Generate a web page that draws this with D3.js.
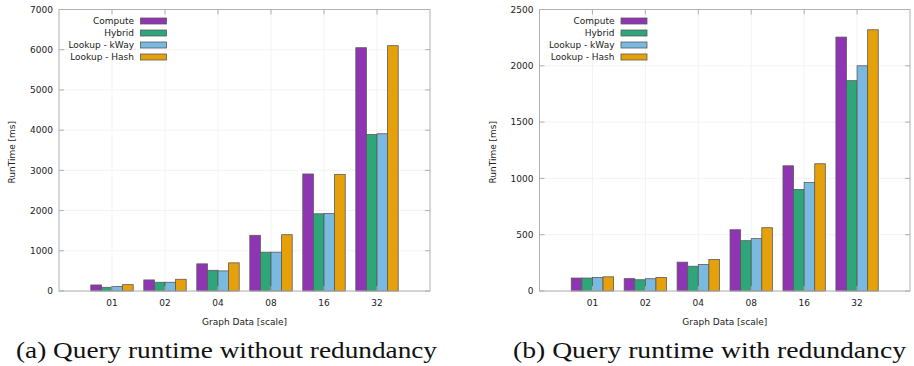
<!DOCTYPE html>
<html>
<head>
  <meta charset="utf-8">
  <title>Query runtime</title>
  <style>
    body { margin: 0; background: #fff; }
    text { font-family: "DejaVu Sans", sans-serif; fill: #222; }
    .caption { font-family: "Liberation Serif", serif; fill: #111; }
  </style>
</head>
<body>
  <div id="chart"></div>
  <script src="https://cdn.jsdelivr.net/npm/d3@7"></script>
  <script>
    // data
    const categories = ["01", "02", "04", "08", "16", "32"];
    const seriesNames = ["Compute", "Hybrid", "Lookup - kWay", "Lookup - Hash"];
    const colors = ["#8f35b3", "#2fa67a", "#7bbae0", "#e6a00a"];

    // (a) without redundancy
    const noRedCompute = [150, 275, 675, 1385, 2910, 6050];
    const noRedHybrid = [92, 217, 515, 965, 1920, 3890];
    const noRedKWay = [115, 217, 500, 965, 1925, 3910];
    const noRedHash = [158, 292, 700, 1400, 2900, 6100];
    const noRedTicks = [0, 1000, 2000, 3000, 4000, 5000, 6000, 7000];

    // (b) with redundancy
    const redCompute = [115, 110, 256, 544, 1112, 2255];
    const redHybrid = [115, 100, 220, 447, 902, 1868];
    const redKWay = [120, 109, 235, 465, 964, 2000];
    const redHash = [126, 120, 279, 562, 1130, 2320];
    const redTicks = [0, 500, 1000, 1500, 2000, 2500];

    const captionA = "(a) Query runtime without redundancy";
    const captionB = "(b) Query runtime with redundancy";

    const svg = d3.select("#chart").append("svg")
      .attr("width", 914)
      .attr("height", 366);

    svg.append("rect").attr("width", 914).attr("height", 366).attr("fill", "#fff");

    function drawPanel(opt) {
      const x = d3.scalePoint()
        .domain(categories)
        .range([opt.left, opt.right])
        .padding(1);
      const step = x.step();

      const sub = d3.scaleBand()
        .domain(seriesNames)
        .range([-step * 0.4, step * 0.4]);

      const y = d3.scaleLinear()
        .domain([0, opt.max])
        .range([opt.bottom, opt.top]);

      const g = svg.append("g");

      // faint grid
      g.append("g").selectAll("line.hg")
        .data(opt.ticks)
        .join("line")
        .attr("x1", opt.left).attr("x2", opt.right)
        .attr("y1", d => y(d)).attr("y2", d => y(d))
        .attr("stroke", "#f3f3f3").attr("stroke-width", 1);
      g.append("g").selectAll("line.vg")
        .data(categories)
        .join("line")
        .attr("x1", d => x(d)).attr("x2", d => x(d))
        .attr("y1", opt.top).attr("y2", opt.bottom)
        .attr("stroke", "#f3f3f3").attr("stroke-width", 1);

      // bars
      const rows = categories.map((c, i) => ({
        cat: c,
        vals: opt.series.map((s, k) => ({ name: seriesNames[k], v: s[i], k: k }))
      }));
      g.append("g").selectAll("g")
        .data(rows)
        .join("g")
        .attr("transform", d => `translate(${x(d.cat)},0)`)
        .selectAll("rect")
        .data(d => d.vals)
        .join("rect")
        .attr("x", d => sub(d.name))
        .attr("y", d => y(d.v))
        .attr("width", sub.bandwidth())
        .attr("height", d => y(0) - y(d.v))
        .attr("fill", d => colors[d.k])
        .attr("stroke", "#5a5a5a")
        .attr("stroke-width", 0.8);

      // border
      g.append("rect")
        .attr("x", opt.left).attr("y", opt.top)
        .attr("width", opt.right - opt.left)
        .attr("height", opt.bottom - opt.top)
        .attr("fill", "none")
        .attr("stroke", "#b0b0b0");

      // ticks (gnuplot style, inward on all sides)
      const tk = g.append("g").attr("stroke", "#b0b0b0");
      opt.ticks.forEach(t => {
        tk.append("line").attr("x1", opt.left).attr("x2", opt.left + 5)
          .attr("y1", y(t)).attr("y2", y(t));
        tk.append("line").attr("x1", opt.right).attr("x2", opt.right - 5)
          .attr("y1", y(t)).attr("y2", y(t));
      });
      categories.forEach(c => {
        tk.append("line").attr("x1", x(c)).attr("x2", x(c))
          .attr("y1", opt.top).attr("y2", opt.top + 5);
        tk.append("line").attr("x1", x(c)).attr("x2", x(c))
          .attr("y1", opt.bottom).attr("y2", opt.bottom - 5);
      });

      // tick labels
      g.append("g").selectAll("text")
        .data(opt.ticks)
        .join("text")
        .attr("x", opt.left - 6)
        .attr("y", d => y(d))
        .attr("dy", "0.35em")
        .attr("text-anchor", "end")
        .attr("font-size", 9)
        .text(d => d);
      g.append("g").selectAll("text")
        .data(categories)
        .join("text")
        .attr("x", d => x(d))
        .attr("y", opt.bottom + 15)
        .attr("text-anchor", "middle")
        .attr("font-size", 9)
        .text(d => d);

      // axis titles
      g.append("text")
        .attr("x", (opt.left + opt.right) / 2)
        .attr("y", 325)
        .attr("text-anchor", "middle")
        .attr("font-size", 9)
        .text("Graph Data [scale]");
      g.append("text")
        .attr("transform", `translate(${opt.left - 44},${(opt.top + opt.bottom) / 2 + 2}) rotate(-90)`)
        .attr("text-anchor", "middle")
        .attr("font-size", 9)
        .text("RunTime [ms]");

      // legend
      const lg = g.append("g").selectAll("g")
        .data(seriesNames)
        .join("g")
        .attr("transform", (d, i) => `translate(${opt.left},${20.5 + i * 12})`);
      lg.append("text")
        .attr("x", 75)
        .attr("dy", "0.35em")
        .attr("text-anchor", "end")
        .attr("font-size", 9)
        .text(d => d);
      lg.append("rect")
        .attr("x", 81.5).attr("y", -2.5)
        .attr("width", 26).attr("height", 6)
        .attr("fill", (d, i) => colors[i])
        .attr("stroke", "#5a5a5a")
        .attr("stroke-width", 0.8);

      // caption
      svg.append("text")
        .attr("class", "caption")
        .attr("x", opt.capX)
        .attr("y", 358)
        .attr("font-size", 24)
        .attr("textLength", opt.capW)
        .attr("lengthAdjust", "spacingAndGlyphs")
        .text(opt.caption);
    }

    drawPanel({
      left: 59, right: 430, top: 9.5, bottom: 291,
      max: 7000, ticks: noRedTicks,
      series: [noRedCompute, noRedHybrid, noRedKWay, noRedHash],
      caption: captionA, capX: 16, capW: 421
    });

    drawPanel({
      left: 539.5, right: 910, top: 9.5, bottom: 291,
      max: 2500, ticks: redTicks,
      series: [redCompute, redHybrid, redKWay, redHash],
      caption: captionB, capX: 513, capW: 393
    });
  </script>
</body>
</html>
